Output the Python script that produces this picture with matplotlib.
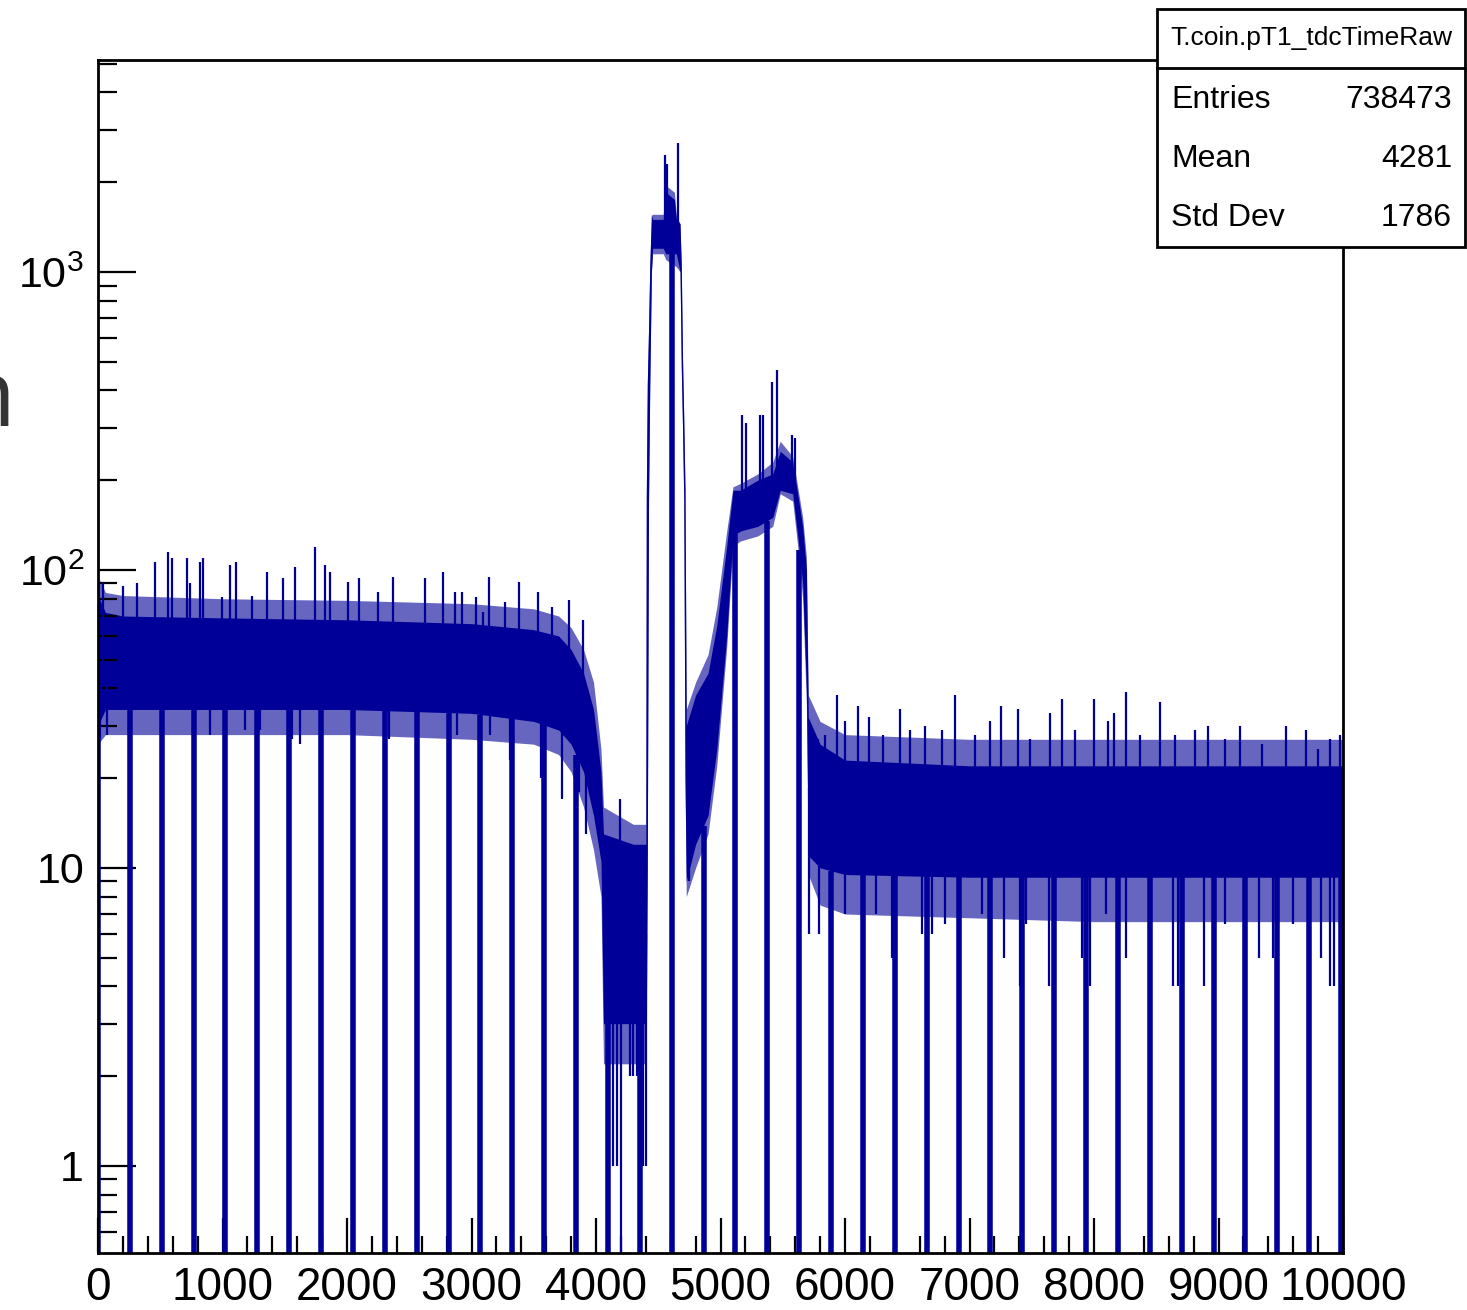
import numpy as np
import matplotlib
matplotlib.use('Agg')
import matplotlib.pyplot as plt
from matplotlib.ticker import FixedLocator, FixedFormatter, MultipleLocator, LogLocator, NullFormatter
from matplotlib.patches import Rectangle
from matplotlib.lines import Line2D

plt.rcParams['font.family'] = ['Liberation Sans', 'DejaVu Sans']
plt.rcParams['mathtext.fontset'] = 'custom'
plt.rcParams['mathtext.rm'] = 'Liberation Sans'
plt.rcParams['mathtext.default'] = 'regular'

# ---------------- data ----------------
hist_name = "T.coin.pT1_tdcTimeRaw"
stats_labels = ["Entries", "Mean", "Std Dev"]
stats_values = ["738473", "4281", "1786"]

x_ticks = [0, 1000, 2000, 3000, 4000, 5000, 6000, 7000, 8000, 9000, 10000]
x_ticklabels = ["0", "1000", "2000", "3000", "4000", "5000", "6000", "7000", "8000", "9000", "10000"]
y_ticks = [1, 10, 100, 1000]
y_ticklabels = ["1", "10", r"$10^{2}$", r"$10^{3}$"]

# envelope of the dense noise band (channel, low count, high count)
band_x = [0, 60, 200, 1000, 2000, 3000, 3500, 3700, 3800, 3900, 3980, 4040, 4060, 4300,
          4400, 4404, 4412, 4422, 4432, 4445, 4455, 4540, 4560, 4630, 4645, 4675, 4685,
          4695, 4705, 4715, 4725, 4800, 4900, 4970, 5050, 5100, 5160, 5300, 5420, 5480,
          5580, 5620, 5660, 5690, 5705, 5800, 6000, 7000, 8000, 9000, 10000]
band_lo = [30, 34, 34, 34, 34, 33, 31, 29, 26, 21, 15, 10.5, 3, 3,
           3, 3, 10, 170, 420, 1000, 1200, 1200, 1150, 1150, 1150, 1000, 480,
           300, 170, 20, 9, 12, 15, 25, 60, 130, 135, 140, 150, 185,
           180, 130, 90, 40, 11, 10, 9.5, 9.3, 9.3, 9.3, 9.3]
band_hi = [82, 72, 70, 69, 68, 66, 63, 60, 54, 45, 34, 21, 13, 12,
           12, 175, 420, 640, 1050, 1550, 1500, 1500, 1850, 1750, 1500, 1450, 1050,
           510, 320, 185, 30, 38, 45, 65, 120, 185, 185, 200, 210, 250,
           230, 180, 140, 100, 32, 26, 23, 22, 22, 22, 22]
# ragged fringe around the band
fringe_lo = [26, 28, 28, 28, 28, 27, 26, 24, 21, 16, 11.5, 8, 2.2, 2.2,
             2.2, 2.2, 10, 170, 420, 1000, 1150, 1150, 1100, 1050, 1040, 1000, 480,
             300, 170, 20, 8, 10, 13, 22, 55, 120, 125, 130, 140, 180,
             170, 120, 80, 35, 9.5, 7.5, 7.0, 6.8, 6.6, 6.6, 6.6]
fringe_hi = [95, 84, 82, 80, 79, 77, 74, 70, 64, 54, 42, 25, 16, 14,
             14, 175, 420, 640, 1050, 1550, 1560, 1560, 1950, 1850, 1550, 1450, 1050,
             510, 320, 185, 34, 42, 52, 75, 135, 190, 195, 210, 230, 270,
             240, 190, 150, 110, 38, 31, 28, 27, 27, 27, 27]

# isolated upward spikes (channel, count)
up_x = [40, 201, 313, 458, 562, 594, 715, 739, 819, 843, 996, 1060, 1108, 1237, 1357, 1486,
        1582, 1743, 1823, 1863, 2008, 2096, 2249, 2369, 2627, 2771, 2867, 2924, 3036, 3092,
        3141, 3269, 3382, 3534, 3647, 3783, 3896, 4190,
        4555, 4568, 4658,
        5173, 5205, 5317, 5341, 5414, 5454, 5574, 5598,
        5783, 5839, 5936, 6000, 6104, 6193, 6305, 6442, 6522, 6643, 6779, 6884, 7044, 7165,
        7253, 7390, 7486, 7647, 7743, 7847, 8000, 8112, 8161, 8257, 8369, 8530, 8651, 8811,
        8916, 9052, 9173, 9349, 9542, 9703, 9799, 9896, 9976]
up_y = [90, 88, 90, 106, 115, 110, 110, 90, 106, 110, 81, 104, 106, 82, 98, 94,
        102, 119, 104, 98, 91, 94, 84, 95, 94, 98, 84, 84, 81, 72,
        95, 78, 91, 84, 75, 79, 68, 17,
        2470, 2300, 2710,
        331, 311, 331, 331, 428, 469, 284, 277,
        27, 28, 38, 31, 35, 32, 28, 34, 29, 30, 29, 38, 28, 31,
        35, 34, 27, 33, 37, 29, 37, 31, 33, 39, 28, 36, 28, 29,
        30, 27, 30, 26, 30, 29, 25, 27, 28]

# isolated downward spikes (channel, count; 0 = empty bin)
dn_x = [20, 70, 900, 1180, 1300, 1560, 1620, 2340, 2880, 3070, 3150, 3310, 3560, 3730, 3860, 3920,
        4140, 4170, 4200, 4270, 4300, 4330, 4380, 4400, 4745, 4790,
        5711, 5791, 6000, 6250, 6378, 6618, 6699, 6800, 7100, 7277, 7406, 7450, 7639, 7904,
        7968, 8100, 8257, 8450, 8635, 8675, 8884, 9050, 9325, 9438, 9600, 9823, 9896, 9928]
dn_y = [27, 28, 28, 29, 29, 27, 26, 27, 28, 28, 28, 23, 20, 17, 18, 13,
        1, 1, 0, 2, 2, 2, 1, 1, 9, 12,
        6, 6, 7, 7, 5, 6, 6, 6.5, 7, 5, 4, 6.5, 4, 5,
        4, 7, 5, 6.5, 4, 4, 4, 6.5, 5, 5, 6.5, 5, 4, 4]

# empty bins repeating through the whole spectrum
dropout_x = [0, 256, 512, 768, 1024, 1280, 1536, 1792, 2048, 2304, 2560, 2816, 3072, 3328,
             3584, 3840, 4096, 4352, 4608, 4864, 5120, 5376, 5632, 5888, 6144, 6400, 6656,
             6912, 7168, 7424, 7680, 7936, 8192, 8448, 8704, 8960, 9216, 9472, 9728, 9984]

# ---------------- drawing ----------------
W, H = 1467, 1310
blue = '#000099'
YMIN, YMAX = 0.51, 5140

fig = plt.figure(figsize=(W / 100, H / 100), dpi=100)
ax = fig.add_axes([98 / W, 1 - 1253 / H, (1343 - 98) / W, (1253 - 60) / H])
ax.set_yscale('log')
ax.set_xlim(0, 10000)
ax.set_ylim(YMIN, YMAX)

bx = np.array(band_x, float)
lo = np.array(band_lo, float)
hi = np.array(band_hi, float)


def band_at(x, arr):
    return 10 ** np.interp(x, bx, np.log10(arr))


ax.fill_between(bx, fringe_lo, fringe_hi, color=blue, alpha=0.6, lw=0)
ax.fill_between(bx, lo, hi, color=blue, lw=0)

ux = np.array(up_x, float)
ax.vlines(ux, np.sqrt(band_at(ux, lo) * band_at(ux, hi)), up_y, color=blue, lw=1.6)
dx = np.array(dn_x, float)
dy = np.array(dn_y, float)
dy = np.where(dy <= 0, YMIN * 0.5, dy)
ax.vlines(dx, dy, np.sqrt(band_at(dx, lo) * band_at(dx, hi)), color=blue, lw=1.6)
ox = np.array(dropout_x, float)
ax.vlines(ox, YMIN * 0.5, band_at(ox, lo), color=blue, lw=4.0)

# axes styling (ROOT look)
for side in ['left', 'bottom', 'top', 'right']:
    ax.spines[side].set_linewidth(2.0)
ax.xaxis.set_major_locator(FixedLocator(x_ticks))
ax.xaxis.set_major_formatter(FixedFormatter(x_ticklabels))
ax.xaxis.set_minor_locator(MultipleLocator(200))
ax.yaxis.set_major_locator(FixedLocator(y_ticks))
ax.yaxis.set_major_formatter(FixedFormatter(y_ticklabels))
ax.yaxis.set_minor_locator(LogLocator(base=10, subs=np.arange(2, 10), numticks=50))
ax.yaxis.set_minor_formatter(NullFormatter())
ax.tick_params(axis='x', which='major', direction='in', length=25, width=1.6,
               labelsize=33, pad=9, top=False)
ax.tick_params(axis='x', which='minor', direction='in', length=12.5, width=1.6, top=False)
ax.tick_params(axis='y', which='major', direction='in', length=27, width=1.6,
               labelsize=31, pad=10, right=False)
ax.tick_params(axis='y', which='minor', direction='in', length=14, width=1.6, right=False)


def fx(px):
    return px / W


def fy(py):
    return 1 - py / H


# stats box
box = Rectangle((fx(1157), fy(247)), fx(1465) - fx(1157), fy(9) - fy(247),
                transform=fig.transFigure, facecolor='white', edgecolor='black', lw=2.0, zorder=5)
fig.add_artist(box)
fig.add_artist(Line2D([fx(1157), fx(1465)], [fy(68), fy(68)], transform=fig.transFigure,
                      color='black', lw=2.0, zorder=6))
fig.text(fx(1311), fy(38), hist_name, ha='center', va='center', fontsize=19, zorder=7)
for i, (lab, val) in enumerate(zip(stats_labels, stats_values)):
    yy = [100, 159, 218][i]
    fig.text(fx(1171), fy(yy), lab, ha='left', va='center', fontsize=23, zorder=7)
    fig.text(fx(1452), fy(yy), val, ha='right', va='center', fontsize=23, zorder=7)

# cropped fragment of a label at the left edge of the screenshot
fig.text(fx(16), fy(426), "n", ha='right', va='baseline', fontsize=68,
         family=['Open Sans', 'DejaVu Sans'], color='#333333')

fig.savefig('out.png', dpi=100)
